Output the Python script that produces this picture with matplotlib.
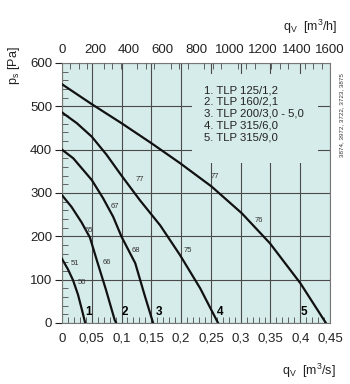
import matplotlib.pyplot as plt
from matplotlib.patches import Rectangle
from matplotlib.ticker import MultipleLocator

plt.rcParams['font.family'] = ['Liberation Sans', 'DejaVu Sans']

# fan curves: q [m3/s] vs ps [Pa]
q1 = [0, 0.010, 0.0185, 0.027, 0.0336, 0.039]
p1 = [148, 124, 99, 65, 30, 0]
q2 = [0, 0.016, 0.033, 0.047, 0.060, 0.074, 0.0885, 0.091]
p2 = [295, 268, 232, 197, 138, 76, 7, 0]
q3 = [0, 0.019, 0.05, 0.069, 0.086, 0.1, 0.123, 0.139, 0.153]
p3 = [400, 380, 330, 288, 245, 199, 138, 63, 0]
q4 = [0, 0.025, 0.05, 0.075, 0.1, 0.131, 0.165, 0.198, 0.232, 0.262]
p4 = [486, 461, 430, 388, 340, 283, 225, 157, 80, 0]
q5 = [0, 0.05, 0.1, 0.15, 0.198, 0.251, 0.302, 0.349, 0.40, 0.443]
p5 = [551, 505, 461, 415, 369, 315, 253, 184, 92, 0]
curves = [(q1, p1), (q2, p2), (q3, p3), (q4, p4), (q5, p5)]

curve_ids = ['1', '2', '3', '4', '5']
id_q = [0.045, 0.105, 0.163, 0.266, 0.406]

# sound level labels (value, q, ps)
db_text = ['51', '50', '65', '66', '67', '68', '77', '75', '77', '76']
db_q = [0.022, 0.033, 0.046, 0.075, 0.088, 0.124, 0.131, 0.211, 0.257, 0.330]
db_p = [138, 93, 213, 140, 268, 168, 332, 168, 339, 236]

legend_lines = ['1. TLP 125/1,2', '2. TLP 160/2,1', '3. TLP 200/3,0 - 5,0',
                '4. TLP 315/6,0', '5. TLP 315/9,0']
legend_p = [537, 510, 483, 456, 429]

bg = '#d6ecea'
gridc = '#4a4a4a'

fig = plt.figure(figsize=(3.5, 3.84), dpi=100)
ax = fig.add_axes([0.177, 0.159, 0.766, 0.677])
ax.set_facecolor(bg)
ax.set_xlim(0, 0.45)
ax.set_ylim(0, 600)

ax.xaxis.set_major_locator(MultipleLocator(0.05))
ax.xaxis.set_minor_locator(MultipleLocator(0.01))
ax.yaxis.set_major_locator(MultipleLocator(100))
ax.yaxis.set_minor_locator(MultipleLocator(20))
ax.grid(True, which='major', color=gridc, lw=0.8, zorder=1)
ax.set_axisbelow(True)

xt = [i * 0.05 for i in range(10)]
ax.set_xticks(xt)
ax.set_xticklabels(['0', '0,05', '0,1', '0,15', '0,2', '0,25', '0,3', '0,35', '0,4', '0,45'])
ax.tick_params(axis='x', which='major', length=0, labelsize=9.5, colors='#222222', pad=7)
ax.tick_params(axis='x', which='minor', direction='in', length=4, color=gridc, bottom=True, top=False)
ax.tick_params(axis='y', which='major', direction='out', length=5, labelsize=9.5, colors='#222222', pad=2)
ax.tick_params(axis='y', which='minor', direction='in', length=4, color=gridc)
for s in ax.spines.values():
    s.set_color('#777777')
    s.set_linewidth(0.8)

# box behind the legend text hides the grid
ax.add_patch(Rectangle((0.218, 368), 0.212, 207, facecolor=bg, edgecolor='none', zorder=1.5))

for (q, p) in curves:
    ax.plot(q, p, color='#111111', lw=1.6, zorder=3)

for t, x in zip(curve_ids, id_q):
    ax.text(x, 25, t, fontsize=8.5, fontweight='bold', ha='center', va='center', zorder=4)

for t, x, y in zip(db_text, db_q, db_p):
    ax.text(x, y, t, fontsize=5.5, color='#333333', ha='center', va='center', zorder=4)

for t, y in zip(legend_lines, legend_p):
    ax.text(0.238, y, t, fontsize=8.2, color='#222222', ha='left', va='center', zorder=4)

ax2 = ax.twiny()
ax2.set_xlim(0, 1600)
ax2.xaxis.set_major_locator(MultipleLocator(200))
ax2.xaxis.set_minor_locator(MultipleLocator(50))
ax2.tick_params(axis='x', which='major', length=0, labelsize=9.5, colors='#222222', pad=5)
ax2.tick_params(axis='x', which='minor', direction='in', length=4, color=gridc)
for s in ax2.spines.values():
    s.set_visible(False)

fig.text(0.04, 0.83, 'p$_\\mathregular{s}$ [Pa]', rotation=90, fontsize=9, ha='center', va='center', color='#222222')
fig.text(0.965, 0.93, 'q$_\\mathregular{V}$  [m$^\\mathregular{3}$/h]', fontsize=9, ha='right', va='center', color='#222222')
fig.text(0.96, 0.035, 'q$_\\mathregular{V}$  [m$^\\mathregular{3}$/s]', fontsize=9, ha='right', va='center', color='#222222')
fig.text(0.977, 0.70, '3874, 3972, 3722, 3723, 3875', rotation=90, fontsize=4.5, ha='center', va='center', color='#333333')

fig.savefig('out.png', dpi=100)
